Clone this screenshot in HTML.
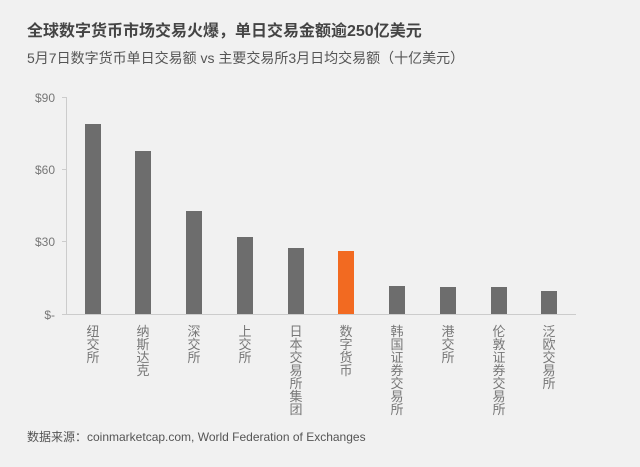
<!DOCTYPE html>
<html><head><meta charset="utf-8"><style>
body{margin:0;background:#f1f1f1;width:640px;height:462px;overflow:hidden;font-family:"Liberation Sans","Noto Sans CJK SC",sans-serif;}
</style></head><body>
<svg width="640" height="462" xmlns="http://www.w3.org/2000/svg" font-family="Liberation Sans, Noto Sans CJK SC, sans-serif">
<rect width="640" height="462" fill="#f1f1f1"/>
<text x="27" y="36" font-size="16" font-weight="bold" fill="#444">全球数字货币市场交易火爆，单日交易金额逾250亿美元</text>
<text x="27" y="63" font-size="14" fill="#555">5月7日数字货币单日交易额 vs 主要交易所3月日均交易额（十亿美元）</text>
<g font-size="12" fill="#777" text-anchor="end">
<text x="55" y="102">$90</text><text x="55" y="174">$60</text><text x="55" y="246">$30</text><text x="55" y="319">$-</text>
</g>
<g stroke="#ccc" stroke-width="1">
<line x1="66.5" y1="97" x2="66.5" y2="314"/><line x1="62" y1="314.5" x2="576" y2="314.5"/>
<line x1="62" y1="97.5" x2="66" y2="97.5"/><line x1="62" y1="169.5" x2="66" y2="169.5"/><line x1="62" y1="241.5" x2="66" y2="241.5"/>
</g>
<g fill="#6d6d6d">
<rect x="85" y="124" width="16" height="190"/>
<rect x="135" y="151" width="16" height="163"/>
<rect x="186" y="211" width="16" height="103"/>
<rect x="237" y="237" width="16" height="77"/>
<rect x="288" y="248" width="16" height="66"/>
<rect x="389" y="286" width="16" height="28"/>
<rect x="440" y="287" width="16" height="27"/>
<rect x="491" y="287" width="16" height="27"/>
<rect x="541" y="291" width="16" height="23"/>
</g>
<rect x="338" y="251" width="16" height="63" fill="#f26a21"/>
<g font-size="13" fill="#777" text-anchor="middle">
<text x="93" y="336">纽<tspan x="93" dy="13">交</tspan><tspan x="93" dy="13">所</tspan></text>
<text x="143" y="336">纳<tspan x="143" dy="13">斯</tspan><tspan x="143" dy="13">达</tspan><tspan x="143" dy="13">克</tspan></text>
<text x="194" y="336">深<tspan x="194" dy="13">交</tspan><tspan x="194" dy="13">所</tspan></text>
<text x="245" y="336">上<tspan x="245" dy="13">交</tspan><tspan x="245" dy="13">所</tspan></text>
<text x="296" y="336">日<tspan x="296" dy="13">本</tspan><tspan x="296" dy="13">交</tspan><tspan x="296" dy="13">易</tspan><tspan x="296" dy="13">所</tspan><tspan x="296" dy="13">集</tspan><tspan x="296" dy="13">团</tspan></text>
<text x="346" y="336">数<tspan x="346" dy="13">字</tspan><tspan x="346" dy="13">货</tspan><tspan x="346" dy="13">币</tspan></text>
<text x="397" y="336">韩<tspan x="397" dy="13">国</tspan><tspan x="397" dy="13">证</tspan><tspan x="397" dy="13">券</tspan><tspan x="397" dy="13">交</tspan><tspan x="397" dy="13">易</tspan><tspan x="397" dy="13">所</tspan></text>
<text x="448" y="336">港<tspan x="448" dy="13">交</tspan><tspan x="448" dy="13">所</tspan></text>
<text x="499" y="336">伦<tspan x="499" dy="13">敦</tspan><tspan x="499" dy="13">证</tspan><tspan x="499" dy="13">券</tspan><tspan x="499" dy="13">交</tspan><tspan x="499" dy="13">易</tspan><tspan x="499" dy="13">所</tspan></text>
<text x="549" y="336">泛<tspan x="549" dy="13">欧</tspan><tspan x="549" dy="13">交</tspan><tspan x="549" dy="13">易</tspan><tspan x="549" dy="13">所</tspan></text>
</g>
<text x="27" y="441" font-size="12" fill="#555">数据来源：coinmarketcap.com, World Federation of Exchanges</text>
</svg>
</body></html>
